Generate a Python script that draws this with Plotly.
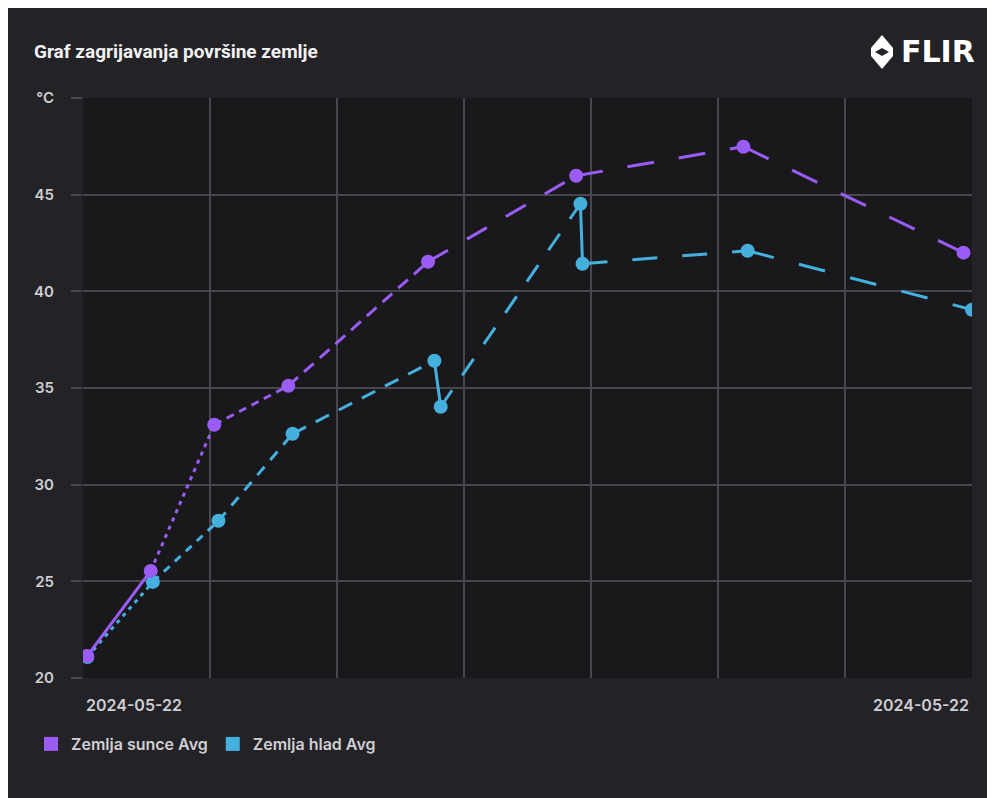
import plotly.graph_objects as go

# ---------------- data ----------------
sun_times = ["2024-05-22 08:02", "2024-05-22 08:32", "2024-05-22 09:02", "2024-05-22 09:37",
             "2024-05-22 10:43", "2024-05-22 11:53", "2024-05-22 13:12", "2024-05-22 14:56"]
sun_values = [21.14, 25.54, 33.10, 35.11, 41.53, 45.98, 47.48, 42.00]

shade_times = ["2024-05-22 08:02", "2024-05-22 08:33", "2024-05-22 09:04", "2024-05-22 09:39",
               "2024-05-22 10:46", "2024-05-22 10:49", "2024-05-22 11:55", "2024-05-22 11:56",
               "2024-05-22 13:14", "2024-05-22 15:00"]
shade_values = [21.09, 24.97, 28.13, 32.63, 36.41, 34.03, 44.53, 41.43, 42.10, 39.05]

series_names = ["Zemlja sunce Avg", "Zemlja hlad Avg"]
y_tick_values = [20, 25, 30, 35, 40, 45, 50]
y_tick_labels = ["20", "25", "30", "35", "40", "45", "°C"]
x_grid_values = ["2024-05-22 %02d:00" % h for h in range(8, 16)]
date_label = "2024-05-22"
title_text = "Graf zagrijavanja površine zemlje"

# ---------------- styles ----------------
PURPLE = "#9b5cf6"
BLUE = "#45b0de"
CARD = "#232227"
PLOT_BG = "#19191c"
GRID = "#48474e"
TEXT = "#cfcfd2"

sun_dashes = ["solid", "4px,5px", "8px,6px", "13px,8px", "23px,22px", "27px,25px", "28px,26px"]
shade_dashes = ["4px,5px", "8px,7px", "11px,9px", "15px,11px", "solid", "20px,18px", "solid",
                "25px,25px", "27px,26px"]

OFF = 8                      # page offset of the figure (browser body margin)
W, H = 995, 798
L, T = 83 - OFF, 98 - OFF
PW, PH = 889, 580
R, B = W - L - PW, H - T - PH


def px2x(px):
    return (px - OFF - L) / PW


def py2y(py):
    return (T + PH - (py - OFF)) / PH


fig = go.Figure()


def add_series(times, values, dashes, color, msize):
    for i in range(len(times) - 1):
        fig.add_trace(go.Scatter(
            x=[times[i], times[i + 1]], y=[values[i], values[i + 1]],
            mode="lines", line=dict(color=color, width=3, dash=dashes[i]),
            showlegend=False, hoverinfo="skip"))
    fig.add_trace(go.Scatter(
        x=times, y=values, mode="markers",
        marker=dict(color=color, size=msize), showlegend=False))


add_series(shade_times, shade_values, shade_dashes, BLUE, 14)
add_series(sun_times, sun_values, sun_dashes, PURPLE, 14)

# legend entries
for name, color in zip(series_names, [PURPLE, BLUE]):
    fig.add_trace(go.Scatter(x=[None], y=[None], mode="markers", name=name,
                             marker=dict(color=color, size=14, symbol="square")))

shapes = []

# FLIR logo icon (approximate)
cx, cy, hw, hh = 882, 52, 11, 17
def pt(x, y):
    return "%f,%f" % (px2x(x), py2y(y))
logo_path = ("M" + pt(cx, cy - hh) + " L" + pt(cx + hw, cy - 4) + " L" + pt(cx + hw, cy + 4)
             + " L" + pt(cx, cy + hh) + " L" + pt(cx - hw, cy + 4) + " L" + pt(cx - hw, cy - 4) + " Z "
             + "M" + pt(cx, cy - 4) + " L" + pt(cx - 7, cy) + " L" + pt(cx, cy + 4)
             + " L" + pt(cx + 7, cy) + " Z")
shapes.append(dict(type="path", xref="paper", yref="paper", path=logo_path,
                   fillcolor="#ffffff", line=dict(width=0), layer="above"))

annotations = [
    dict(text="<b>" + title_text + "</b>", xref="paper", yref="paper",
         x=px2x(32), y=py2y(52), xanchor="left", yanchor="middle", showarrow=False,
         font=dict(family="Roboto", size=19, color="#f2f2f2")),
    dict(text="<b>FLIR</b>", xref="paper", yref="paper",
         x=px2x(977), y=py2y(52), xanchor="right", yanchor="middle", showarrow=False,
         font=dict(family="DejaVu Sans", size=30, color="#ffffff")),
    dict(text=date_label, xref="paper", yref="paper",
         x=px2x(84), y=py2y(705), xanchor="left", yanchor="middle", showarrow=False,
         font=dict(family="Inter", size=16, color=TEXT, weight=600)),
    dict(text=date_label, xref="paper", yref="paper",
         x=px2x(971), y=py2y(705), xanchor="right", yanchor="middle", showarrow=False,
         font=dict(family="Inter", size=16, color=TEXT, weight=600)),
]

fig.update_layout(
    width=W, height=H,
    margin=dict(l=L, r=R, t=T, b=B),
    paper_bgcolor=CARD,
    plot_bgcolor=PLOT_BG,
    shapes=shapes,
    annotations=annotations,
    showlegend=True,
    legend=dict(orientation="h", x=px2x(31), y=py2y(727), xanchor="left", yanchor="top",
                font=dict(family="Inter", size=16, color=TEXT, weight=600),
                bgcolor="rgba(0,0,0,0)", itemclick=False),
    font=dict(family="Inter", color=TEXT),
)

fig.update_xaxes(
    type="date",
    range=[x_grid_values[0], x_grid_values[-1]],
    tickvals=x_grid_values, ticktext=[""] * len(x_grid_values),
    showgrid=True, gridcolor=GRID, gridwidth=1.5,
    zeroline=False, showline=False, fixedrange=True,
)
fig.update_yaxes(
    range=[20, 50],
    tickvals=y_tick_values, ticktext=y_tick_labels,
    showgrid=True, gridcolor=GRID, gridwidth=1.5,
    ticks="outside", ticklen=11, tickcolor=GRID, tickwidth=1.5,
    ticklabelstandoff=14,
    tickfont=dict(family="Inter", size=15, color=TEXT, weight=600),
    zeroline=False, showline=False, fixedrange=True,
)

fig.write_html("out.html")
